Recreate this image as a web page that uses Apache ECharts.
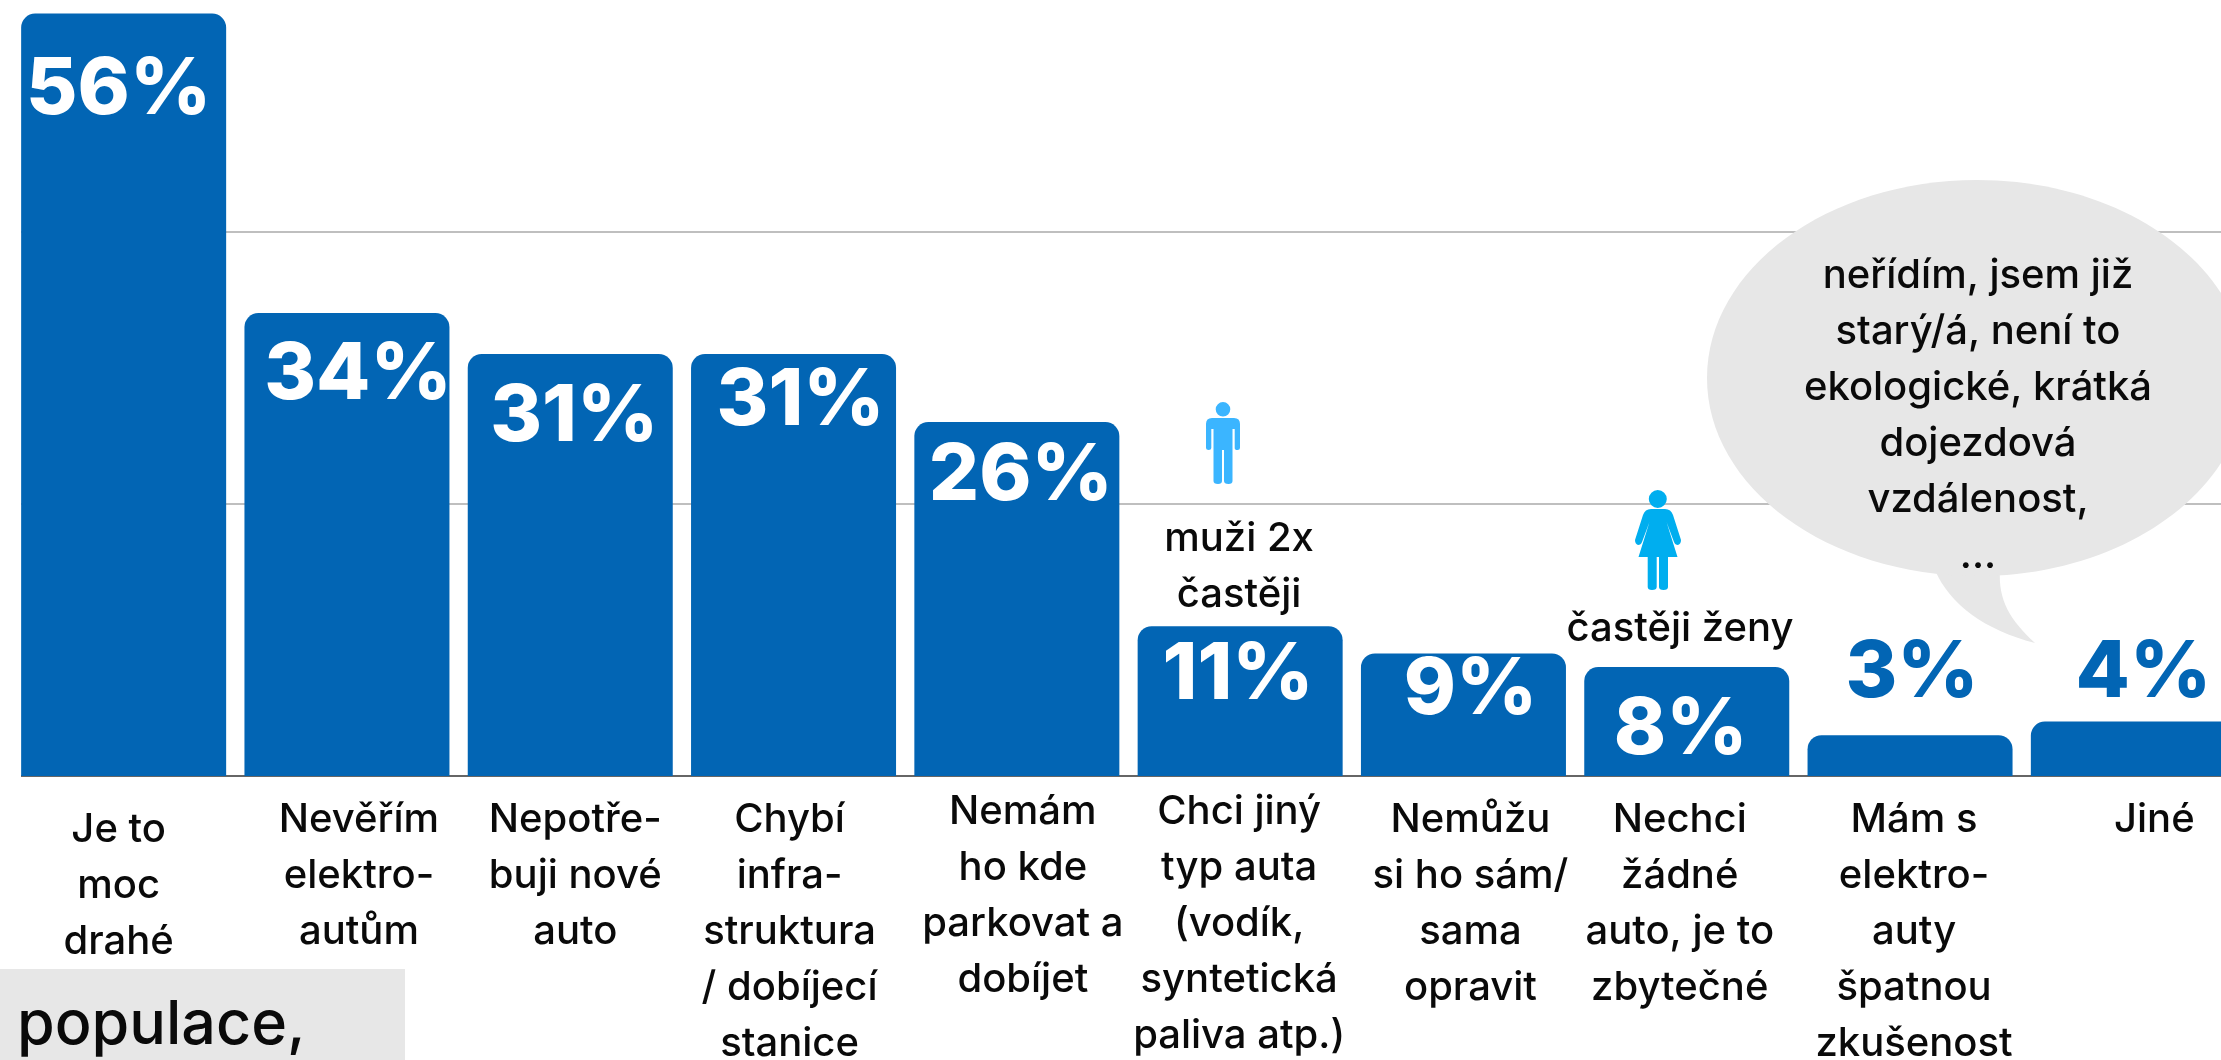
<!DOCTYPE html>
<html><head><meta charset="utf-8">
<style>html,body{margin:0;padding:0;background:#fff}#c{width:2221px;height:1060px}</style>
<script src="https://cdn.jsdelivr.net/npm/echarts@6/dist/echarts.min.js"></script>
</head><body><div id="c"></div>
<script>
const categories = ["Je to\nmoc\ndrahé","Nevěřím\nelektro-\nautům","Nepotře-\nbuji nové\nauto","Chybí\ninfra-\nstruktura\n/ dobíjecí\nstanice","Nemám\nho kde\nparkovat a\ndobíjet","Chci jiný\ntyp auta\n(vodík,\nsyntetická\npaliva atp.)","Nemůžu\nsi ho sám/\nsama\nopravit","Nechci\nžádné\nauto, je to\nzbytečné","Mám s\nelektro-\nauty\nšpatnou\nzkušenost","Jiné"];
const values = [56,34,31,31,26,11,9,8,3,4];
const bubbleLines = "neřídím, jsem již\nstarý/á, není to\nekologické, krátká\ndojezdová\nvzdálenost,\n...";

const FONT = 'Inter, "Noto Sans", sans-serif';
const BODY_SIZE = 40;
const BLUE = '#0265b4';
const valueNudge = [[-5,32],[11,18],[4,19],[7,3],[4,10],[-2,5],[7,-8],[-6,19],[2,-106],[10,-93]];
const catNudge = [[-5,10],[12,0],[5,0],[-4,0],[6,-8],[-1,-8],[7,0],[-7,0],[4,0],[21,0]];
const outside = v => v < 5;

const man = 'M6 16H28Q34 16 34 22V46Q34 48 31.5 48Q28.7 48 28.7 46V27H26.5V79Q26.5 82 22.5 82Q18 82 18 79V48H16V79Q16 82 12 82Q7.5 82 7.5 79V27H5.3V46Q5.3 48 2.7 48Q0 48 0 46V22Q0 16 6 16ZM17 0A7.3 7.3 0 1 1 16.99 0Z';
const woman = 'M16 19H30Q36 19 38 25L46 50Q46 54 43 55Q40 55 39 52L31.5 32L42.5 67H33V97Q33 100 28.5 100Q24 100 24 97V67H21.7V97Q21.7 100 17 100Q12.7 100 12.7 97V67H3.5L14.5 32L7 52Q6 55 3 55Q0 54 0 50L8 25Q10 19 16 19ZM22.8 0A9 9 0 1 1 22.79 0Z';
const tail = 'M0 0C15 35 50 60 100 73C75 50 63 30 65 0Z';
const txt = (text, x, y, size, extra) => ({type:'text', z:60, x, y, style:Object.assign({text, fill:'#0a0a0a', font:`500 ${size}px ${FONT}`, align:'center', verticalAlign:'middle', lineHeight:56}, extra||{})});
const pathEl = (pathData, x, y, width, height, fill) => ({type:'path', shape:{pathData, x, y, width, height, layout:'cover'}, style:{fill}});

const chart = echarts.init(document.getElementById('c'), null, {renderer:'canvas'});
chart.setOption({
  animation:false, backgroundColor:'#fff',
  grid:{left:12, top:0, width:2233, height:776, outerBoundsMode:'none', containLabel:false},
  xAxis:{type:'category', data:categories, boundaryGap:true, axisTick:{show:false}, axisLabel:{show:false},
    axisLine:{lineStyle:{color:'#666666', width:2}}, splitLine:{show:false}},
  yAxis:{type:'value', min:0, max:57, interval:20, axisLabel:{show:false}, axisLine:{show:false}, axisTick:{show:false},
    splitLine:{showMaxLine:false, lineStyle:{color:'#bfbfbf', width:2}}},
  series:[
    {type:'bar', barWidth:205, z:5,
     itemStyle:{color:BLUE, borderRadius:[14,14,0,0]},
     data:values.map((v,i)=>({value:v, label:{show:true, position:'insideTop', offset:valueNudge[i],
        formatter:v+'%', color:outside(v)?BLUE:'#ffffff', fontFamily:FONT, fontWeight:800, fontSize:79}}))},
    {type:'scatter', symbolSize:0, z:6, silent:true, itemStyle:{opacity:1},
     data:categories.map((c,i)=>({value:[c,0], label:{show:true, position:'bottom', distance:16, offset:catNudge[i],
        formatter:()=>c, color:'#0a0a0a', fontFamily:FONT, fontWeight:500, fontSize:BODY_SIZE, lineHeight:56, align:'center'}}))},
    {type:'custom', coordinateSystem:'none', z:8, silent:true, data:[0],
     renderItem:()=>({type:'group', children:[
       pathEl(tail,1935,570,100,73,'#e7e7e7'),
       pathEl(man,1206,402,34,82,'#3bb5ff'),
       pathEl(woman,1635,490,46,100,'#00aeef')
     ]})}
  ],
  graphic:[
    {type:'rect', z:50, shape:{x:0,y:0,width:21,height:790}, style:{fill:'#fff'}},
    {type:'ellipse', z:55, shape:{cx:1977,cy:378,rx:270,ry:198}, style:{fill:'#e7e7e7'}},
    txt('muži 2x\nčastěji', 1239, 567, BODY_SIZE),
    txt('častěji ženy', 1680, 629, BODY_SIZE),
    txt(bubbleLines, 1978, 416, BODY_SIZE),
    {type:'rect', z:55, shape:{x:0,y:969,width:405,height:91}, style:{fill:'#e7e7e7'}},
    txt('populace,', 17, 1026, 61, {align:'left'})
  ]
});
</script></body></html>
